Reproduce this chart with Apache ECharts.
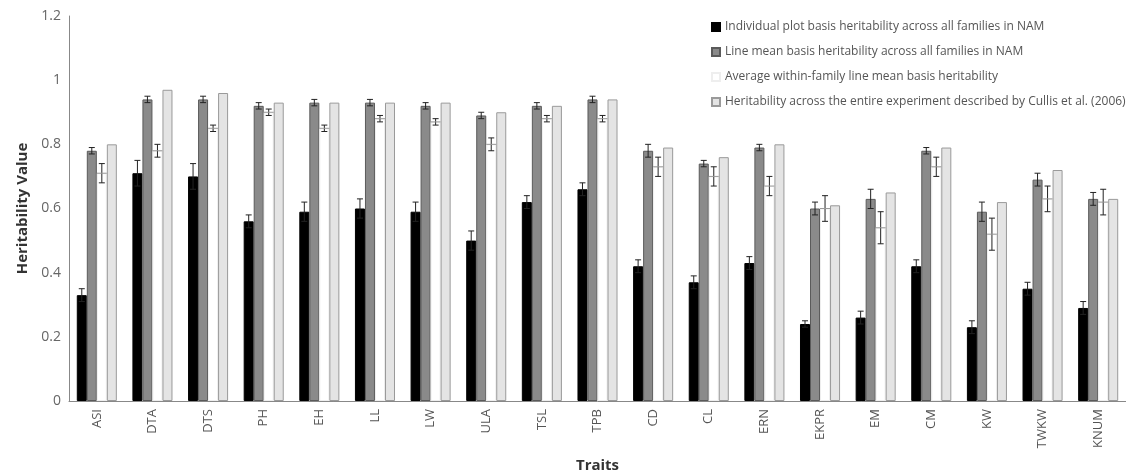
<!DOCTYPE html>
<html>
<head>
<meta charset="utf-8">
<script src="https://cdn.jsdelivr.net/npm/echarts@6/dist/echarts.min.js"></script>
<style>html,body{margin:0;padding:0;background:#fff}#c{width:1126px;height:475px}</style>
</head>
<body>
<div id="c"></div>
<script>
var categories = ['ASI','DTA','DTS','PH','EH','LL','LW','ULA','TSL','TPB','CD','CL','ERN','EKPR','EM','CM','KW','TWKW','KNUM'];
var seriesNames = [
  'Individual plot basis heritability across all families in NAM',
  'Line mean basis heritability across all families in NAM',
  'Average within-family line mean basis heritability',
  'Heritability across the entire experiment described by Cullis et al. (2006)'
];
var plotBasis   = [0.33,0.71,0.70,0.56,0.59,0.60,0.59,0.50,0.62,0.66,0.42,0.37,0.43,0.24,0.26,0.42,0.23,0.35,0.29];
var lineMean    = [0.78,0.94,0.94,0.92,0.93,0.93,0.92,0.89,0.92,0.94,0.78,0.74,0.79,0.60,0.63,0.78,0.59,0.69,0.63];
var withinFam   = [0.71,0.78,0.85,0.90,0.85,0.88,0.87,0.80,0.88,0.88,0.73,0.70,0.67,0.60,0.54,0.73,0.52,0.63,0.62];
var cullis      = [0.80,0.97,0.96,0.93,0.93,0.93,0.93,0.90,0.92,0.94,0.79,0.76,0.80,0.61,0.65,0.79,0.62,0.72,0.63];
var plotBasisErr = [0.02,0.04,0.04,0.02,0.03,0.03,0.03,0.03,0.02,0.02,0.02,0.02,0.02,0.01,0.02,0.02,0.02,0.02,0.02];
var lineMeanErr  = [0.01,0.01,0.01,0.01,0.01,0.01,0.01,0.01,0.01,0.01,0.02,0.01,0.01,0.02,0.03,0.01,0.03,0.02,0.02];
var withinFamErr = [0.03,0.02,0.01,0.01,0.01,0.01,0.01,0.02,0.01,0.01,0.03,0.03,0.03,0.04,0.05,0.03,0.05,0.04,0.04];
var yTicks = [0,0.2,0.4,0.6,0.8,1,1.2];

var GAP = 0.28;
function errSeries(vals, errs, idx, showMid) {
  var data = vals.map(function(v,i){ return [i, v, errs[i]]; });
  return {
    type: 'custom',
    name: 'err' + idx,
    z: 10,
    silent: true,
    renderItem: function(params, api) {
      var ci = api.value(0), v = api.value(1), e = api.value(2);
      var band = api.size([1,0])[0];
      var bw = band * (1 - GAP) / 4;
      var c = api.coord([ci, v]);
      var x = c[0] + (idx - 1.5) * bw;
      var top = api.coord([ci, v + e])[1];
      var bot = api.coord([ci, v - e])[1];
      var cap = 3;
      var st = {stroke: '#222', lineWidth: 1};
      var children = [
        {type:'line', shape:{x1:x,y1:top,x2:x,y2:bot}, style:st},
        {type:'line', shape:{x1:x-cap,y1:top,x2:x+cap,y2:top}, style:st},
        {type:'line', shape:{x1:x-cap,y1:bot,x2:x+cap,y2:bot}, style:st}
      ];
      if (showMid) {
        children.push({type:'line', shape:{x1:x-bw/2,y1:c[1],x2:x+bw/2,y2:c[1]}, style:{stroke:'#999',lineWidth:1}});
      }
      return {type:'group', children: children};
    },
    data: data
  };
}

var chart = echarts.init(document.getElementById('c'));
chart.setOption({
  animation: false,
  grid: {left: 69, right: 0, top: 16, bottom: 74, outerBoundsMode: 'none', containLabel: false},
  legend: {
    orient: 'vertical',
    left: 706, top: 16,
    itemWidth: 8, itemHeight: 8, itemGap: 13,
    textStyle: {fontSize: 12, color: '#555', fontFamily: 'Open Sans'},
    data: seriesNames.map(function(n){ return {name: n, icon: 'rect'}; })
  },
  xAxis: {
    type: 'category',
    data: categories,
    name: 'Traits',
    nameLocation: 'middle',
    nameGap: 57,
    nameTextStyle: {fontSize: 15, fontWeight: 'bold', color: '#333', fontFamily: 'Open Sans'},
    axisLine: {lineStyle: {color: '#888'}},
    axisTick: {show: false},
    axisLabel: {rotate: 90, fontSize: 13, color: '#555', margin: 8, fontFamily: 'Open Sans'}
  },
  yAxis: {
    type: 'value',
    min: 0, max: 1.2, interval: 0.2,
    name: 'Heritability Value',
    nameLocation: 'middle',
    nameGap: 39,
    nameTextStyle: {fontSize: 15, fontWeight: 'bold', color: '#333', fontFamily: 'Open Sans'},
    axisLine: {show: true, lineStyle: {color: '#888'}},
    axisTick: {show: false},
    splitLine: {show: false},
    axisLabel: {fontSize: 14, color: '#666', margin: 8, fontFamily: 'Open Sans',
      formatter: function(v){ var t = yTicks.filter(function(k){return Math.abs(k-v)<1e-6;}); return t.length ? String(+v.toFixed(1)) : ''; }}
  },
  series: [
    {type:'bar', name: seriesNames[0], data: plotBasis, barGap: '0%', barCategoryGap: (GAP*100)+'%',
      itemStyle:{color:'#000', borderColor:'#000', borderWidth:1}},
    {type:'bar', name: seriesNames[1], data: lineMean, barGap: '0%', barCategoryGap: (GAP*100)+'%',
      itemStyle:{color:'#8a8a8a', borderColor:'#5a5a5a', borderWidth:1}},
    {type:'bar', name: seriesNames[2], data: withinFam, barGap: '0%', barCategoryGap: (GAP*100)+'%',
      itemStyle:{color:'#fff', borderColor:'#eeeeee', borderWidth:1}},
    {type:'bar', name: seriesNames[3], data: cullis, barGap: '0%', barCategoryGap: (GAP*100)+'%',
      itemStyle:{color:'#e4e4e4', borderColor:'#9a9a9a', borderWidth:1}},
    errSeries(plotBasis, plotBasisErr, 0, false),
    errSeries(lineMean, lineMeanErr, 1, false),
    errSeries(withinFam, withinFamErr, 2, true)
  ]
});
</script>
</body>
</html>
